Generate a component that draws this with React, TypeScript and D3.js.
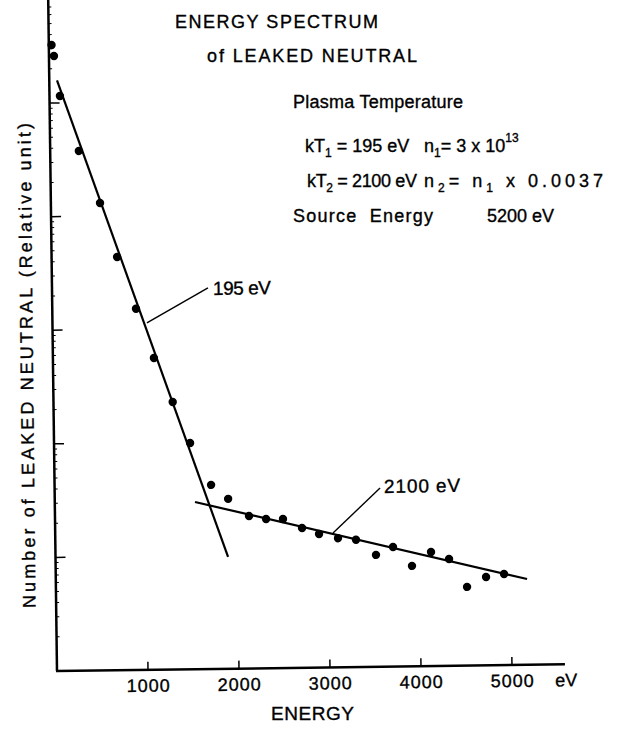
import React, { useEffect, useRef } from "react";
import * as d3 from "d3";

// measured spectrum (energy in eV, counts in relative units)
const energy = [
  30, 55, 115, 315, 540, 720, 920, 1110, 1310, 1495, 1720, 1905, 2132, 2319,
  2505, 2713, 2899, 3107, 3304, 3522, 3710, 3916, 4127, 4324, 4518, 4728, 4926,
];
const counts = [
  324000, 259000, 115000, 37600, 13000, 4340, 1510, 555, 226, 98, 41.7, 31.3,
  22.0, 20.6, 20.5, 17.0, 15.0, 13.7, 13.2, 9.66, 11.3, 7.66, 10.1, 8.73, 4.93,
  6.0, 6.35,
];

// fitted straight lines on the log plot
const fitLow: [number, number][] = [
  [85, 158000],
  [1896, 9.64],
];
const fitHigh: [number, number][] = [
  [1541, 29.6],
  [5178, 5.7],
];

// leader lines for the slope labels
const leaderLow: [number, number][] = [
  [1038, 1130],
  [1714, 2260],
];
const leaderHigh: [number, number][] = [
  [3053, 15.2],
  [3576, 37.5],
];

const xTicks = [1000, 2000, 3000, 4000, 5000];
const yMajor = [10, 100, 1000, 10000, 100000];
const xMax = 5582;

// annotation rows: [text, shift] pieces, shift 1 = subscript, -1 = superscript
type Piece = [string, number];
const rowKT1: Piece[] = [["kT", 0], ["1", 1], [" = 195 eV", 0]];
const rowN1: Piece[] = [["n", 0], ["1", 1], ["= 3 x 10", 0], ["13", -1]];
const rowKT2: Piece[] = [["kT", 0], ["2", 1], [" = 2100 eV", 0]];
const rowN2: Piece[] = [["n", 0], ["2", 1], ["= n", 0], ["1", 1], [" x 0.0037", 0]];

const W = 618;
const H = 729;
const FONT = "'Liberation Sans', Arial, sans-serif";

const App: React.FC = () => {
  const ref = useRef<SVGSVGElement | null>(null);

  useEffect(() => {
    if (!ref.current) return;
    const svg = d3.select(ref.current);
    svg.selectAll("*").remove();

    svg.append("rect").attr("width", W).attr("height", H).attr("fill", "#fff");

    const x = d3.scaleLinear().domain([0, 5000]).range([57, 512]);
    const y = d3.scaleLog().domain([1, 1e5]).range([671, 671 - 5 * 113.6]);

    // the scanned figure is slightly tilted
    const g = svg.append("g").attr("transform", "rotate(-0.75, 57, 671)");

    // axes
    g.append("line")
      .attr("x1", x(0))
      .attr("x2", x(0))
      .attr("y1", y(1))
      .attr("y2", y(1e6))
      .attr("stroke", "#000")
      .attr("stroke-width", 2.5);
    g.append("line")
      .attr("x1", x(0) - 1)
      .attr("x2", x(xMax))
      .attr("y1", y(1))
      .attr("y2", y(1))
      .attr("stroke", "#000")
      .attr("stroke-width", 2.5);

    const label = (sel: any) =>
      sel
        .attr("font-family", FONT)
        .attr("fill", "#000")
        .attr("stroke", "#000")
        .attr("stroke-width", 0.35);

    // x ticks + labels
    xTicks.forEach(t => {
      g.append("line")
        .attr("x1", x(t))
        .attr("x2", x(t))
        .attr("y1", y(1))
        .attr("y2", y(1) - 8)
        .attr("stroke", "#000")
        .attr("stroke-width", 1.5);
      g.append("text")
        .call(label)
        .attr("x", x(t))
        .attr("y", y(1) + 22)
        .attr("text-anchor", "middle")
        .attr("font-size", 18)
        .attr("textLength", 43)
        .attr("lengthAdjust", "spacing")
        .text(String(t));
    });
    g.append("text")
      .call(label)
      .attr("x", x(xMax) - 10)
      .attr("y", y(1) + 22)
      .attr("font-size", 18)
      .text("eV");

    // y ticks (log decades, minor marks)
    yMajor.forEach(t => {
      g.append("line")
        .attr("x1", x(0))
        .attr("x2", x(0) + 10)
        .attr("y1", y(t))
        .attr("y2", y(t))
        .attr("stroke", "#000")
        .attr("stroke-width", 1.5);
    });
    [1, 10, 100, 1000, 10000, 100000].forEach(d => {
      d3.range(2, 10).forEach(k => {
        const v = k * d;
        if (v > 7e5) return;
        g.append("line")
          .attr("x1", x(0))
          .attr("x2", x(0) + 3)
          .attr("y1", y(v))
          .attr("y2", y(v))
          .attr("stroke", "#000")
          .attr("stroke-width", 1);
      });
    });

    const line = d3
      .line<[number, number]>()
      .x(d => x(d[0]))
      .y(d => y(d[1]));

    [fitLow, fitHigh].forEach(f => {
      g.append("path")
        .attr("d", line(f))
        .attr("fill", "none")
        .attr("stroke", "#000")
        .attr("stroke-width", 2.2);
    });
    [leaderLow, leaderHigh].forEach(f => {
      g.append("path")
        .attr("d", line(f))
        .attr("fill", "none")
        .attr("stroke", "#000")
        .attr("stroke-width", 1.4);
    });

    g.append("text")
      .call(label)
      .attr("x", x(leaderLow[1][0]) + 5)
      .attr("y", y(leaderLow[1][1]) + 7)
      .attr("font-size", 19)
      .attr("textLength", 58)
      .attr("lengthAdjust", "spacing")
      .text("195 eV");
    g.append("text")
      .call(label)
      .attr("x", x(leaderHigh[1][0]) + 4)
      .attr("y", y(leaderHigh[1][1]) + 5)
      .attr("font-size", 19)
      .attr("textLength", 76)
      .attr("lengthAdjust", "spacing")
      .text("2100 eV");

    // data points
    g.selectAll("circle.pt")
      .data(energy)
      .enter()
      .append("circle")
      .attr("class", "pt")
      .attr("cx", d => x(d))
      .attr("cy", (d, i) => y(counts[i]))
      .attr("r", 4.2)
      .attr("fill", "#000");

    // titles / annotation text
    const txt = (
      s: string,
      tx: number,
      ty: number,
      size: number,
      len?: number,
      anchor = "start"
    ) => {
      const t = svg
        .append("text")
        .call(label)
        .attr("x", tx)
        .attr("y", ty)
        .attr("font-size", size)
        .attr("text-anchor", anchor)
        .attr("xml:space", "preserve")
        .text(s);
      if (len) t.attr("textLength", len).attr("lengthAdjust", "spacing");
      return t;
    };

    const row = (pieces: Piece[], tx: number, ty: number, len?: number) => {
      const t = svg
        .append("text")
        .call(label)
        .attr("x", tx)
        .attr("y", ty)
        .attr("font-size", 18)
        .attr("xml:space", "preserve");
      if (len) t.attr("textLength", len).attr("lengthAdjust", "spacing");
      let prev = 0;
      pieces.forEach(([s, shift]) => {
        const off = shift === 1 ? 5 : shift === -1 ? -10 : 0;
        t.append("tspan")
          .attr("dy", off - prev)
          .attr("font-size", shift ? 12 : 18)
          .text(s);
        prev = off;
      });
    };

    txt("ENERGY SPECTRUM", 175, 28, 18, 203);
    txt("of LEAKED NEUTRAL", 207, 62, 18, 210);
    txt("Plasma Temperature", 293, 108, 18, 170);

    row(rowKT1, 305, 152);
    row(rowN1, 424, 152);
    row(rowKT2, 307, 187, 110);
    row(rowN2, 424, 187, 179);

    txt("Source  Energy", 293, 222, 18, 140);
    txt("5200 eV", 554, 222, 18, undefined, "end");

    txt("ENERGY", 271, 720, 19, 83);

    svg
      .append("text")
      .call(label)
      .attr("transform", "translate(33, 365.5) rotate(-90.6)")
      .attr("text-anchor", "middle")
      .attr("font-size", 18)
      .attr("textLength", 485)
      .attr("lengthAdjust", "spacing")
      .text("Number  of  LEAKED  NEUTRAL  (Relative  unit)");
  }, []);

  return (
    <svg
      ref={ref}
      width={W}
      height={H}
      style={{ position: "absolute", left: 0, top: 0, display: "block" }}
    />
  );
};

export default App;
